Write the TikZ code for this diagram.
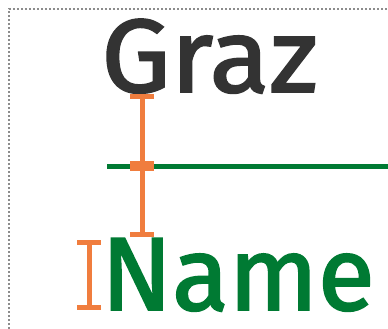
\documentclass[tikz,border=0pt]{standalone}
\usepackage{fontspec}
\setmainfont{Fira Sans}
\newfontfamily\wordfont{Fira Sans}[FakeBold=1.9, FakeStretch=1.06]
\newfontfamily\namefont{Fira Sans}[FakeBold=1.9, FakeStretch=1.0]
\usetikzlibrary{arrows.meta}
\definecolor{dimorange}{HTML}{F07D3E}
\definecolor{textgreen}{HTML}{007A33}
\definecolor{textgray}{HTML}{333333}
\definecolor{framegray}{HTML}{8C8C8C}
\tikzset{
  word/.style={inner sep=0pt, anchor=base west, font=\fontsize{104}{104}\wordfont},
  nameword/.style={inner sep=0pt, anchor=base west, font=\fontsize{104}{104}\namefont},
  ibeam/.style={draw=dimorange, line width=5pt, {Bar[width=24pt]}-{Bar[width=24pt]}},
  baseline/.style={draw=textgreen, line width=5pt},
  frame/.style={draw=framegray, line width=1.6pt, dash pattern=on 1.6pt off 2.4pt}
}
\begin{document}
\begin{tikzpicture}[x=1pt,y=-1pt]
\useasboundingbox (0,0) rectangle (388,329);
\draw[frame] (9,329) -- (9,9) -- (388,9);
\node[word, text=textgray] (graz) at (101,92) {Graz};
\node[nameword, text=textgreen] (name) at (101,310) {Name};
\coordinate (a1) at (142,94);
\coordinate (a2) at (142,166);
\coordinate (a3) at (142,237);
\coordinate (b1) at (89,240);
\coordinate (b2) at (89,310);
\coordinate (gl) at (107,166);
\coordinate (gr) at (388,166);
\draw[baseline] (gl) -- (gr);
\draw[ibeam] (a1) -- (a2);
\draw[ibeam] (a2) -- (a3);
\draw[ibeam] (b1) -- (b2);
\end{tikzpicture}
\end{document}
